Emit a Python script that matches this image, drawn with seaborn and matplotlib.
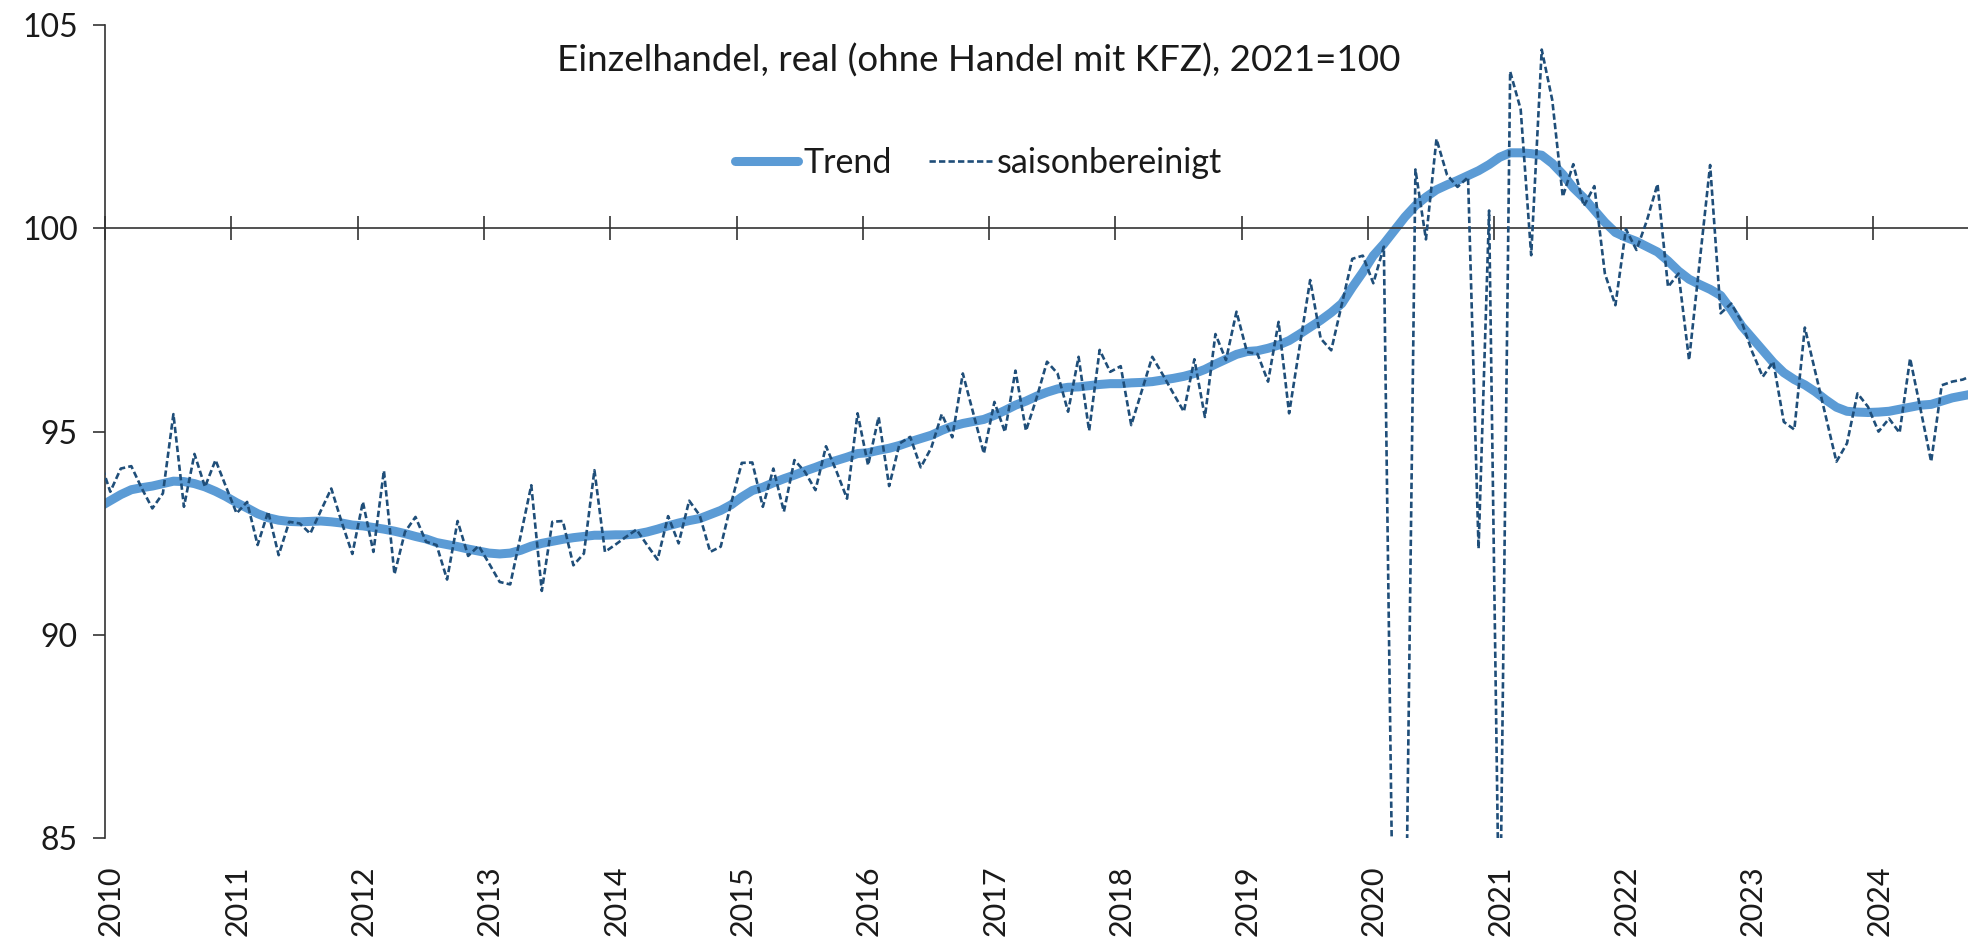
import numpy as np
import pandas as pd
import matplotlib
matplotlib.use("Agg")
import matplotlib.pyplot as plt
import matplotlib.transforms as mtransforms
import seaborn as sns

# ---------------- data ----------------
months = pd.date_range("2009-12-01", "2024-10-01", freq="MS")

saison_2009 = [94.3]
saison_2010 = [93.52, 94.09, 94.15, 93.60, 93.11, 93.48, 95.43, 93.15, 94.45, 93.64, 94.30, 93.64]
saison_2011 = [92.99, 93.27, 92.21, 93.03, 91.96, 92.78, 92.74, 92.49, 93.05, 93.60, 92.76, 91.99]
saison_2012 = [93.27, 92.04, 94.04, 91.49, 92.53, 92.90, 92.29, 92.21, 91.36, 92.80, 91.94, 92.19]
saison_2013 = [91.75, 91.30, 91.24, 92.45, 93.68, 91.08, 92.78, 92.80, 91.71, 92.00, 94.05, 92.04]
saison_2014 = [92.22, 92.41, 92.59, 92.21, 91.85, 92.92, 92.25, 93.30, 92.94, 92.04, 92.17, 93.25]
saison_2015 = [94.23, 94.24, 93.15, 94.09, 93.03, 94.30, 94.01, 93.56, 94.64, 94.02, 93.35, 95.45]
saison_2016 = [94.17, 95.36, 93.66, 94.71, 94.87, 94.12, 94.60, 95.43, 94.86, 96.43, 95.45, 94.46]
saison_2017 = [95.73, 94.99, 96.50, 95.02, 95.82, 96.72, 96.43, 95.49, 96.84, 95.02, 97.01, 96.47]
saison_2018 = [96.61, 95.16, 96.00, 96.84, 96.40, 95.94, 95.49, 96.78, 95.36, 97.40, 96.76, 97.95]
saison_2019 = [96.96, 96.91, 96.23, 97.70, 95.45, 97.09, 98.73, 97.29, 97.00, 98.12, 99.25, 99.33]
saison_2020 = [98.65, 99.55, 80.00, 80.50, 101.45, 99.73, 102.20, 101.32, 101.02, 101.26, 92.12, 100.44]
saison_2021 = [81.80, 103.86, 102.93, 99.34, 104.40, 103.16, 100.78, 101.58, 100.55, 101.04, 98.89, 98.11]
saison_2022 = [99.98, 99.47, 100.20, 101.09, 98.56, 98.89, 96.76, 99.16, 101.56, 97.91, 98.15, 97.70]
saison_2023 = [96.96, 96.35, 96.72, 95.24, 95.05, 97.56, 96.46, 95.36, 94.26, 94.71, 95.94, 95.61]
saison_2024 = [95.00, 95.32, 94.97, 96.80, 95.54, 94.26, 96.14, 96.23, 96.28, 96.39]

trend_2009 = [93.15]
trend_2010 = [93.30, 93.45, 93.57, 93.62, 93.66, 93.72, 93.78, 93.77, 93.72, 93.64, 93.53, 93.40]
trend_2011 = [93.25, 93.12, 92.98, 92.88, 92.82, 92.79, 92.78, 92.79, 92.80, 92.78, 92.75, 92.70]
trend_2012 = [92.68, 92.64, 92.60, 92.55, 92.49, 92.42, 92.36, 92.27, 92.22, 92.17, 92.11, 92.06]
trend_2013 = [92.01, 91.99, 92.01, 92.08, 92.18, 92.25, 92.30, 92.35, 92.39, 92.42, 92.45, 92.45]
trend_2014 = [92.46, 92.46, 92.48, 92.53, 92.60, 92.68, 92.75, 92.81, 92.86, 92.96, 93.06, 93.20]
trend_2015 = [93.39, 93.55, 93.63, 93.74, 93.84, 93.93, 94.03, 94.12, 94.22, 94.29, 94.37, 94.46]
trend_2016 = [94.48, 94.54, 94.59, 94.66, 94.75, 94.83, 94.91, 95.03, 95.13, 95.20, 95.25, 95.30]
trend_2017 = [95.40, 95.52, 95.65, 95.75, 95.87, 95.97, 96.05, 96.09, 96.10, 96.13, 96.16, 96.18]
trend_2018 = [96.18, 96.20, 96.21, 96.23, 96.27, 96.31, 96.36, 96.43, 96.53, 96.66, 96.78, 96.90]
trend_2019 = [96.97, 96.99, 97.05, 97.13, 97.24, 97.40, 97.57, 97.74, 97.93, 98.15, 98.55, 98.92]
trend_2020 = [99.33, 99.62, 99.95, 100.28, 100.56, 100.77, 100.95, 101.07, 101.18, 101.30, 101.42, 101.57]
trend_2021 = [101.75, 101.86, 101.86, 101.84, 101.80, 101.60, 101.33, 101.00, 100.75, 100.45, 100.15, 99.90]
trend_2022 = [99.78, 99.68, 99.55, 99.42, 99.20, 98.95, 98.75, 98.62, 98.50, 98.35, 98.00, 97.60]
trend_2023 = [97.30, 97.00, 96.70, 96.45, 96.28, 96.15, 95.98, 95.78, 95.60, 95.50, 95.48, 95.47]
trend_2024 = [95.48, 95.50, 95.55, 95.60, 95.65, 95.67, 95.75, 95.83, 95.88, 95.93]

year_ticks = list(range(2010, 2025))
year_labels = [str(y) for y in year_ticks]
y_ticks = [85, 90, 95, 100, 105]
title = "Einzelhandel, real (ohne Handel mit KFZ), 2021=100"
name_trend = "Trend"
name_saison = "saisonbereinigt"

saison = (saison_2009 + saison_2010 + saison_2011 + saison_2012 + saison_2013 + saison_2014
          + saison_2015 + saison_2016 + saison_2017 + saison_2018 + saison_2019 + saison_2020
          + saison_2021 + saison_2022 + saison_2023 + saison_2024)
trend = (trend_2009 + trend_2010 + trend_2011 + trend_2012 + trend_2013 + trend_2014
         + trend_2015 + trend_2016 + trend_2017 + trend_2018 + trend_2019 + trend_2020
         + trend_2021 + trend_2022 + trend_2023 + trend_2024)

# mid-month position in fractional years
xpos = months.year + (months.month - 0.5) / 12.0
df = pd.DataFrame({"x": xpos, "trend": trend, "saison": saison})

# ---------------- plot ----------------
sns.set_theme(style="white")
plt.rcParams["font.family"] = ["Lato", "DejaVu Sans"]

fig = plt.figure(figsize=(19.68, 9.44), dpi=100)
ax = fig.add_axes([105 / 1968, 106 / 944, 1863 / 1968, 812.8 / 944])

sns.lineplot(data=df, x="x", y="trend", ax=ax, color="#5B9BD5", linewidth=6.5,
             label=name_trend, solid_capstyle="round", zorder=2)
sns.lineplot(data=df, x="x", y="saison", ax=ax, color="#1F4E79", linewidth=1.9,
             linestyle=(0, (2.4, 1.2)), label=name_saison, zorder=3)

ax.set_xlim(2010, 2024.75)
ax.set_ylim(85, 105)
ax.set_xlabel("")
ax.set_ylabel("")

for side in ["top", "right"]:
    ax.spines[side].set_visible(False)
ax.spines["left"].set_color("#333333")
ax.spines["left"].set_linewidth(1.2)
ax.spines["bottom"].set_position(("data", 100))
ax.spines["bottom"].set_color("#333333")
ax.spines["bottom"].set_linewidth(1.2)

ax.set_xticks(year_ticks)
ax.tick_params(axis="x", direction="inout", length=17, width=1.2, color="#333333",
               labelbottom=False, bottom=True)
ax.set_yticks(y_ticks)
ax.tick_params(axis="y", direction="out", length=8.5, width=1.2, color="#333333",
               pad=11, labelsize=23, labelcolor="#1a1a1a", left=True)

sec = ax.secondary_xaxis("bottom")
sec.set_xticks(year_ticks)
sec.set_xticklabels(year_labels)
sec.tick_params(axis="x", length=0, pad=20, labelsize=22, labelrotation=90,
                labelcolor="#1a1a1a")
sec.spines["bottom"].set_visible(False)
offset = mtransforms.ScaledTranslation(6 / 100, 0, fig.dpi_scale_trans)
for lbl in sec.get_xticklabels():
    lbl.set_transform(lbl.get_transform() + offset)

ax.text(0.469, 0.957, title, transform=ax.transAxes, ha="center", va="center",
        fontsize=26.5, color="#1a1a1a")

leg = ax.legend(loc="center", bbox_to_anchor=(0.469, 0.83), ncol=2, frameon=False,
                fontsize=24.5, handlelength=1.85, columnspacing=1.1, handletextpad=0.15)
for t in leg.get_texts():
    t.set_color("#1a1a1a")

fig.savefig("out.png", dpi=100)
